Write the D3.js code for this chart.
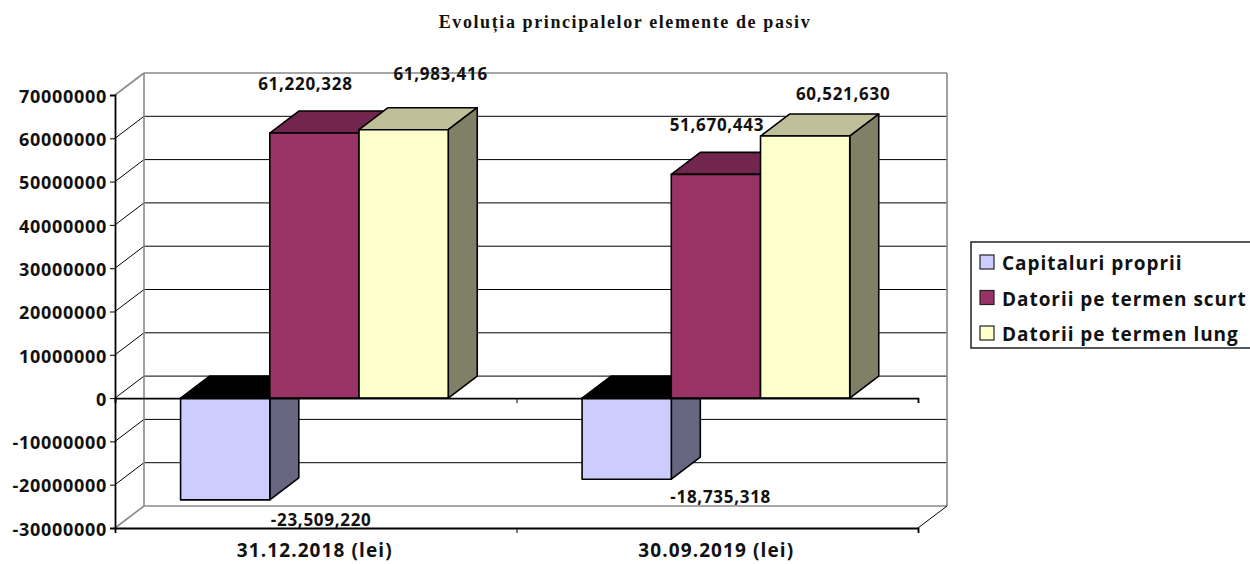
<!DOCTYPE html>
<html>
<head>
<meta charset="utf-8">
<script src="https://cdn.jsdelivr.net/npm/d3@7"></script>
<style>
body { margin:0; background:#fff; }
text { font-family:"Open Sans", sans-serif; font-weight:700; fill:#111; }
.title { font-family:"Liberation Serif", serif; font-size:18px; letter-spacing:1.6px; }
.val { font-size:17px; letter-spacing:0.7px; }
.axis path, .axis line { stroke:#000; }
</style>
</head>
<body>
<script>
var categories = ['31.12.2018 (lei)', '30.09.2019 (lei)'];
var seriesNames = ['Capitaluri proprii', 'Datorii pe termen scurt', 'Datorii pe termen lung'];
var capitaluri = [-23509220, -18735318];
var datoriiScurt = [61220328, 51670443];
var datoriiLung = [61983416, 60521630];
var yTicks = [-30000000, -20000000, -10000000, 0, 10000000, 20000000, 30000000, 40000000, 50000000, 60000000, 70000000];
var colors = ['#CCCCFF', '#993366', '#FFFFCC'];

var params = {
  width:1250
, height:564
, left:115
, right:918
, top:95
, bottom:528
, depthX:29
, depthY:22
}

var series = [capitaluri, datoriiScurt, datoriiLung];

// hand placed in the original, so nudged per label from the bar top/bottom
var labelNudge = [
  [[96, 20], [94, 18]],
  [[-9, -49], [1, -49]],
  [[37, -56], [38, -42]]
];

var svg = d3.select('body').append('svg')
  .attr('width', params.width)
  .attr('height', params.height)
  .style('display', 'block');

var y = d3.scaleLinear().domain([-30000000, 70000000]).range([params.bottom, params.top]);
var x0 = d3.scaleBand().domain(categories).range([params.left, params.right]);
var x1 = d3.scaleBand().domain(d3.range(series.length)).range([0, x0.bandwidth()]).paddingOuter(0.75).paddingInner(0).align(0.49);
var xEdges = d3.scaleLinear().domain([0, categories.length]).range([params.left, params.right]);

function shade(c, k) {
  var r = d3.rgb(c);
  return d3.rgb(r.r * k, r.g * k, r.b * k).formatHex();
}

// back wall and side wall
var dx = params.depthX, dy = params.depthY;
var grid = svg.append('g');
yTicks.forEach(function(t) {
  var edge = t === 70000000 || t === -30000000;
  var c = edge ? '#8a8a8a' : '#000';
  var w = edge ? 1.6 : 1;
  grid.append('line').attr('x1', params.left + dx).attr('x2', params.right + dx)
    .attr('y1', y(t) - dy).attr('y2', y(t) - dy)
    .style('stroke', c).style('stroke-width', w);
  grid.append('line').attr('x1', params.left).attr('x2', params.left + dx)
    .attr('y1', y(t)).attr('y2', y(t) - dy)
    .style('stroke', c).style('stroke-width', w);
});
[params.left + dx, params.right + dx].forEach(function(px) {
  grid.append('line').attr('x1', px).attr('x2', px)
    .attr('y1', params.top - dy).attr('y2', params.bottom - dy)
    .style('stroke', '#8a8a8a').style('stroke-width', 1.6);
});

// floor edge on the right
svg.append('line').attr('x1', params.right).attr('x2', params.right + dx)
  .attr('y1', params.bottom).attr('y2', params.bottom - dy)
  .style('stroke', '#000').style('stroke-width', 1);

// bars, negative ones first so the positive fronts sit over them
var barsG = svg.append('g').style('stroke', '#000').style('stroke-width', 1.6).style('stroke-linejoin', 'round');
categories.forEach(function(cat, ci) {
  series.forEach(function(vals, si) {
    var v = vals[ci];
    var bx = x0(cat) + x1(si), bw = x1.bandwidth();
    var yt = y(Math.max(v, 0)), yb = y(Math.min(v, 0));
    var g = barsG.append('g');
    g.append('polygon')
      .attr('points', [[bx, yt], [bx + dx, yt - dy], [bx + bw + dx, yt - dy], [bx + bw, yt]].join(' '))
      .style('fill', v < 0 ? '#000' : shade(colors[si], 0.75));
    g.append('polygon')
      .attr('points', [[bx + bw, yt], [bx + bw + dx, yt - dy], [bx + bw + dx, yb - dy], [bx + bw, yb]].join(' '))
      .style('fill', shade(colors[si], 0.5));
    g.append('rect').attr('x', bx).attr('y', yt).attr('width', bw).attr('height', yb - yt)
      .style('fill', colors[si]);
  });
});

// value axis
var yAxis = d3.axisLeft(y).tickValues(yTicks).tickFormat(d3.format('d')).tickSize(5).tickPadding(3);
var yg = svg.append('g').attr('class', 'axis').attr('transform', 'translate(' + params.left + ',0)').call(yAxis);
yg.selectAll('path').style('stroke-width', 1.8);
yg.selectAll('text').attr('dy', '0.4em').style('font-size', '18px').style('font-family', '"Open Sans", sans-serif').style('letter-spacing', '0.7px')
  .text(function(d) { return String(d); });

// zero line and bottom line with ticks on the category edges
[0, -30000000].forEach(function(t) {
  var a = d3.axisBottom(xEdges).ticks(categories.length).tickFormat('').tickSize(5).tickSizeOuter(5);
  var g = svg.append('g').attr('class', 'axis').attr('transform', 'translate(0,' + y(t) + ')').call(a);
  g.selectAll('path').style('stroke-width', 1.8);
});

// category labels
var xAxis = d3.axisBottom(x0).tickSize(0).tickPadding(0);
var xg = svg.append('g').attr('class', 'axis').attr('transform', 'translate(0,' + params.bottom + ')').call(xAxis);
xg.select('path').remove();
xg.selectAll('text').attr('y', 16).attr('dx', -1).style('font-size', '19px').style('font-family', '"Open Sans", sans-serif').style('letter-spacing', '1.1px');

// data labels
series.forEach(function(vals, si) {
  vals.forEach(function(v, ci) {
    var n = labelNudge[si][ci];
    svg.append('text').attr('class', 'val')
      .attr('x', x0(categories[ci]) + x1(si) + x1.bandwidth() / 2 + n[0])
      .attr('y', y(v) + n[1])
      .attr('text-anchor', 'middle').attr('dy', '0.35em')
      .text(d3.format(',')(v).replace('\u2212', '-'));
  });
});

// title
svg.append('text').attr('class', 'title').attr('x', 625).attr('y', 28).attr('text-anchor', 'middle')
  .text('Evoluția principalelor elemente de pasiv');

// legend
var leg = svg.append('g').attr('transform', 'translate(971,242)');
leg.append('rect').attr('width', 290).attr('height', 106)
  .style('fill', '#fff').style('stroke', '#222').style('stroke-width', 1.5);
seriesNames.forEach(function(name, i) {
  var row = leg.append('g').attr('transform', 'translate(0,' + (20 + i * 35.5) + ')');
  row.append('rect').attr('x', 9).attr('y', -7).attr('width', 14).attr('height', 14)
    .style('fill', colors[i]).style('stroke', '#222').style('stroke-width', 1.2);
  row.append('text').attr('x', 31).attr('y', 8).style('font-size', '19px').style('letter-spacing', '0.95px').text(name);
});
</script>
</body>
</html>
